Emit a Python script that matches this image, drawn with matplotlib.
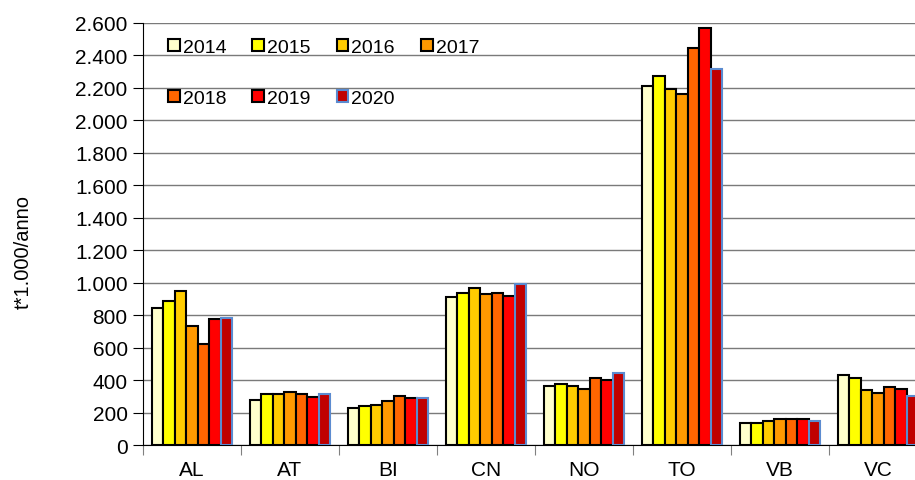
import numpy as np
import matplotlib
matplotlib.use("Agg")
import matplotlib.pyplot as plt
from matplotlib.ticker import FuncFormatter

plt.rcParams['font.family'] = ['Liberation Sans', 'DejaVu Sans']

# province, one value per year (t*1000/anno)
province = ['AL', 'AT', 'BI', 'CN', 'NO', 'TO', 'VB', 'VC']
years = ['2014', '2015', '2016', '2017', '2018', '2019', '2020']
v2014 = [845, 275, 230, 910, 365, 2212, 136, 431]
v2015 = [885, 312, 238, 936, 376, 2271, 136, 415]
v2016 = [951, 312, 245, 967, 365, 2193, 150, 339]
v2017 = [731, 327, 273, 932, 347, 2161, 162, 320]
v2018 = [620, 312, 302, 934, 413, 2448, 162, 359]
v2019 = [778, 296, 288, 916, 399, 2571, 162, 347]
v2020 = [785, 312, 288, 990, 442, 2317, 146, 302]
series = [v2014, v2015, v2016, v2017, v2018, v2019, v2020]

colors = ['#FFFFCC', '#FFFF00', '#FFCC00', '#FF9900', '#FF6600', '#FF0000', '#C00000']
edges = ['black'] * 6 + ['#5B8BD0']

fig = plt.figure(figsize=(9.15, 4.81), dpi=100)
ax = fig.add_axes([143/915, 1 - 446/481, (927 - 143)/915, (446 - 24)/481])

x = np.arange(len(province))
bw = 0.118
handles = []
for i, vals in enumerate(series):
    b = ax.bar(x - 3*bw + i*bw, vals, width=bw, color=colors[i],
               edgecolor=edges[i], linewidth=1.5, zorder=3, label=years[i])
    handles.append(b)

ax.set_xlim(-0.5, len(province) - 0.5)
ax.set_ylim(0, 2600)
ax.set_yticks(np.arange(0, 2601, 200))
ax.yaxis.set_major_formatter(FuncFormatter(lambda v, p: f'{int(v):,}'.replace(',', '.')))
ax.grid(axis='y', color='#7a7a7a', linewidth=1.0, zorder=0)

ax.set_xticks(np.arange(-0.5, len(province), 1.0))
ax.set_xticklabels([])
ax.set_xticks(x, minor=True)
ax.set_xticklabels(province, minor=True)
ax.tick_params(axis='x', which='major', length=7, color='#808080')
ax.tick_params(axis='x', which='minor', length=0, pad=11, labelsize=15)
ax.tick_params(axis='y', length=7, labelsize=15, pad=4)

for s in ['top', 'right']:
    ax.spines[s].set_visible(False)
ax.spines['left'].set_color('black')
ax.spines['bottom'].set_color('black')

ax.set_ylabel('t*1.000/anno', fontsize=14.5)
ax.yaxis.set_label_coords(-0.140, 0.46)

# row-major legend order for 4 columns
order = [0, 4, 1, 5, 2, 6, 3]
leg = ax.legend([handles[i] for i in order], [years[i] for i in order],
                ncol=4, frameon=False, fontsize=14,
                loc='upper left', bbox_to_anchor=(168/915, 1 - 40/481),
                bbox_transform=fig.transFigure, borderpad=0, borderaxespad=0,
                handlelength=0.6, handleheight=0.6, handletextpad=0.15,
                labelspacing=1.75, columnspacing=1.35)

fig.savefig('out.png', dpi=100)
